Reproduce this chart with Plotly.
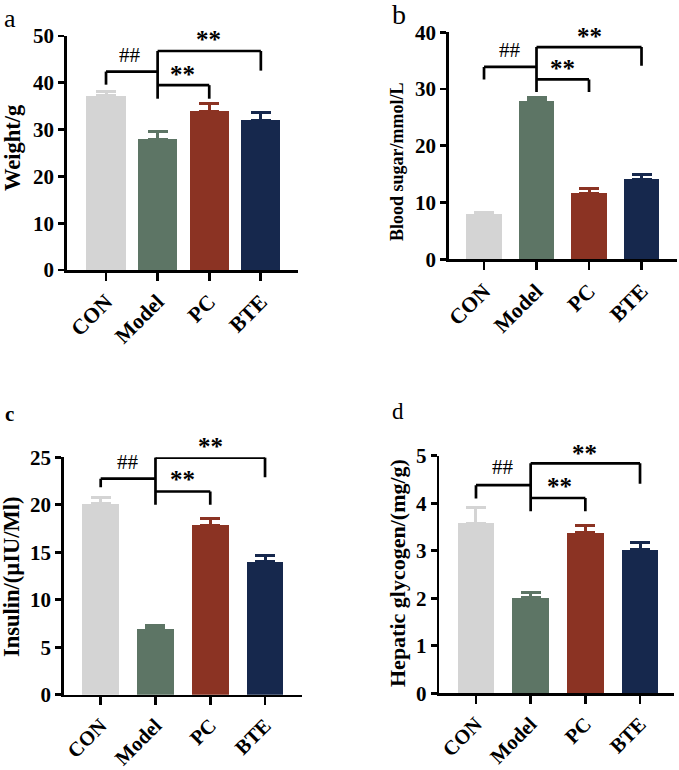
import plotly.graph_objects as go

W, H = 679, 770

categories = ["CON", "Model", "PC", "BTE"]
colors = ["#D4D4D4", "#5D7565", "#8B3323", "#16284D"]

weight = [37.2, 27.9, 33.9, 32.05]
weight_sem = [1.0, 1.6, 1.6, 1.55]

sugar = [8.0, 27.95, 11.6, 14.1]
sugar_sem = [0.3, 0.55, 0.9, 0.8]

insulin = [20.1, 6.95, 17.85, 14.0]
insulin_sem = [0.7, 0.35, 0.75, 0.7]

glycogen = [3.58, 2.01, 3.38, 3.02]
glycogen_sem = [0.33, 0.12, 0.16, 0.15]

# bracket levels: (h1, l1, h2, mid_bottom, r2, h3, r3)
brackets = {
    "a": (42.4, 39.6, 46.8, 36.6, 42.6, 39.5, 36.6),
    "b": (33.9, 31.7, 37.4, 29.5, 34.1, 31.7, 29.5),
    "c": (22.75, 21.85, 24.97, 20.0, 22.9, 21.4, 20.0),
    "d": (4.38, 4.10, 4.84, 3.83, 4.41, 4.11, 3.83),
}
# text positions: (## x, ## y, outer ** x, y, inner ** x, y)
marks = {
    "a": (0.47, 45.9, 1.98, 50.2, 1.49, 42.7),
    "b": (0.5, 36.9, 2.0, 40.05, 1.5, 34.3),
    "c": (0.5, 24.55, 2.0, 26.55, 1.5, 23.05),
    "d": (0.5, 4.76, 1.99, 5.14, 1.53, 4.43),
}

panels = [
    dict(key="a", vals=weight, sem=weight_sem, title="Weight/g", xdom=(67, 298), ydom=(36, 270),
         xr=(-0.756, 3.72), yr=(0, 50), dt=10, bw=0.76, tfs=22.5, ttx=12, tty=148, xfs=21.5,
         lab="a", lx=10, ly=19, lfs=26, lbold=False),
    dict(key="b", vals=sugar, sem=sugar_sem, title="Blood sugar/mmol/L", xdom=(449, 677), ydom=(32.3, 259.3),
         xr=(-0.667, 3.676), yr=(0, 40), dt=10, bw=0.67, tfs=18, ttx=397, tty=162, xfs=21.5,
         lab="b", lx=399, ly=15, lfs=28, lbold=False),
    dict(key="c", vals=insulin, sem=insulin_sem, title="Insulin/(µIU/Ml)", xdom=(64, 302), ydom=(457.3, 694.7),
         xr=(-0.67, 3.675), yr=(0, 25), dt=5, bw=0.67, tfs=22.5, ttx=11, tty=577, xfs=20.5,
         lab="c", lx=9, ly=414, lfs=21, lbold=True),
    dict(key="d", vals=glycogen, sem=glycogen_sem, title="Hepatic glycogen/(mg/g)", xdom=(439.3, 674.3), ydom=(455.7, 693.3),
         xr=(-0.671, 3.627), yr=(0, 5), dt=1, bw=0.67, tfs=22, ttx=397, tty=573, xfs=20.5,
         lab="d", lx=398, ly=412, lfs=23, lbold=False),
]

SERIF = "Liberation Serif, Times New Roman, serif"
fig = go.Figure()
shapes = []
annotations = []


def to_paper(p, xv, yv):
    x0, x1 = p["xdom"][0] / W, p["xdom"][1] / W
    y0, y1 = 1 - p["ydom"][1] / H, 1 - p["ydom"][0] / H
    xp = x0 + (xv - p["xr"][0]) / (p["xr"][1] - p["xr"][0]) * (x1 - x0)
    yp = y0 + (yv - p["yr"][0]) / (p["yr"][1] - p["yr"][0]) * (y1 - y0)
    return xp, yp


for i, p in enumerate(panels):
    n = "" if i == 0 else str(i + 1)
    xa, ya = "x" + n, "y" + n
    for c, v, s, col in zip(categories, p["vals"], p["sem"], colors):
        fig.add_trace(go.Bar(
            x=[c], y=[v], width=p["bw"], marker=dict(color=col, line=dict(width=0)),
            error_y=dict(type="data", array=[s], arrayminus=[0], symmetric=False,
                         color=col, thickness=3, width=10),
            xaxis=xa, yaxis=ya, showlegend=False, hoverinfo="skip",
        ))
    axis_common = dict(showline=True, linecolor="black", linewidth=2.7, ticks="outside",
                       tickwidth=2.7, tickcolor="black", showgrid=False, zeroline=False,
                       automargin=False, fixedrange=True)
    fig.update_layout(**{
        "xaxis" + n: dict(domain=[p["xdom"][0] / W, p["xdom"][1] / W], range=list(p["xr"]),
                          type="category", categoryorder="array", categoryarray=categories,
                          tickangle=-45, ticklen=8, anchor=ya,
                          tickfont=dict(family=SERIF, size=p["xfs"], color="black", weight="bold"),
                          **axis_common),
        "yaxis" + n: dict(domain=[1 - p["ydom"][1] / H, 1 - p["ydom"][0] / H], range=list(p["yr"]),
                          dtick=p["dt"], ticklen=6, anchor=xa,
                          tickfont=dict(family=SERIF, size=21, color="black", weight="bold"),
                          **axis_common),
    })
    h1, l1, h2, mb, r2, h3, r3 = brackets[p["key"]]
    segs = [
        (0, l1, 0, h1), (0, h1, 1, h1),
        (1, mb, 1, h2), (1, h2, 3, h2), (3, h2, 3, r2),
        (1, h3, 2, h3), (2, h3, 2, r3),
    ]
    for x0, y0, x1, y1 in segs:
        shapes.append(dict(type="line", xref=xa, yref=ya, x0=x0, y0=y0, x1=x1, y1=y1,
                           line=dict(color="black", width=2.7)))
    hx, hy, ox, oy, ix, iy = marks[p["key"]]
    xp, yp = to_paper(p, hx, hy)
    annotations.append(dict(x=xp, y=yp, xref="paper", yref="paper", text="##", showarrow=False,
                            xanchor="center", yanchor="middle",
                            font=dict(family=SERIF, size=21, color="black")))
    for tx, ty in [(ox, oy), (ix, iy)]:
        xp, yp = to_paper(p, tx, ty)
        annotations.append(dict(x=xp, y=yp, xref="paper", yref="paper", text="**", showarrow=False,
                                xanchor="center", yanchor="middle", yshift=-4,
                                font=dict(family=SERIF, size=25, color="black", weight="bold")))
    annotations.append(dict(x=p["ttx"] / W, y=1 - p["tty"] / H, xref="paper", yref="paper",
                            text=p["title"], textangle=-90, showarrow=False,
                            xanchor="center", yanchor="middle",
                            font=dict(family=SERIF, size=p["tfs"], color="black", weight="bold")))
    annotations.append(dict(x=p["lx"] / W, y=1 - p["ly"] / H, xref="paper", yref="paper",
                            text=p["lab"], showarrow=False, xanchor="center", yanchor="middle",
                            font=dict(family=SERIF, size=p["lfs"], color="black",
                                      weight="bold" if p["lbold"] else "normal")))

fig.update_layout(
    width=W, height=H, margin=dict(l=0, r=0, t=0, b=0, autoexpand=False),
    paper_bgcolor="white", plot_bgcolor="white",
    barmode="overlay", bargap=0, hovermode=False,
    shapes=shapes, annotations=annotations,
)

fig.write_html(
    "out.html",
    config={"displayModeBar": False, "staticPlot": True},
    post_script="document.body.style.margin='0';document.body.style.padding='0';",
)
